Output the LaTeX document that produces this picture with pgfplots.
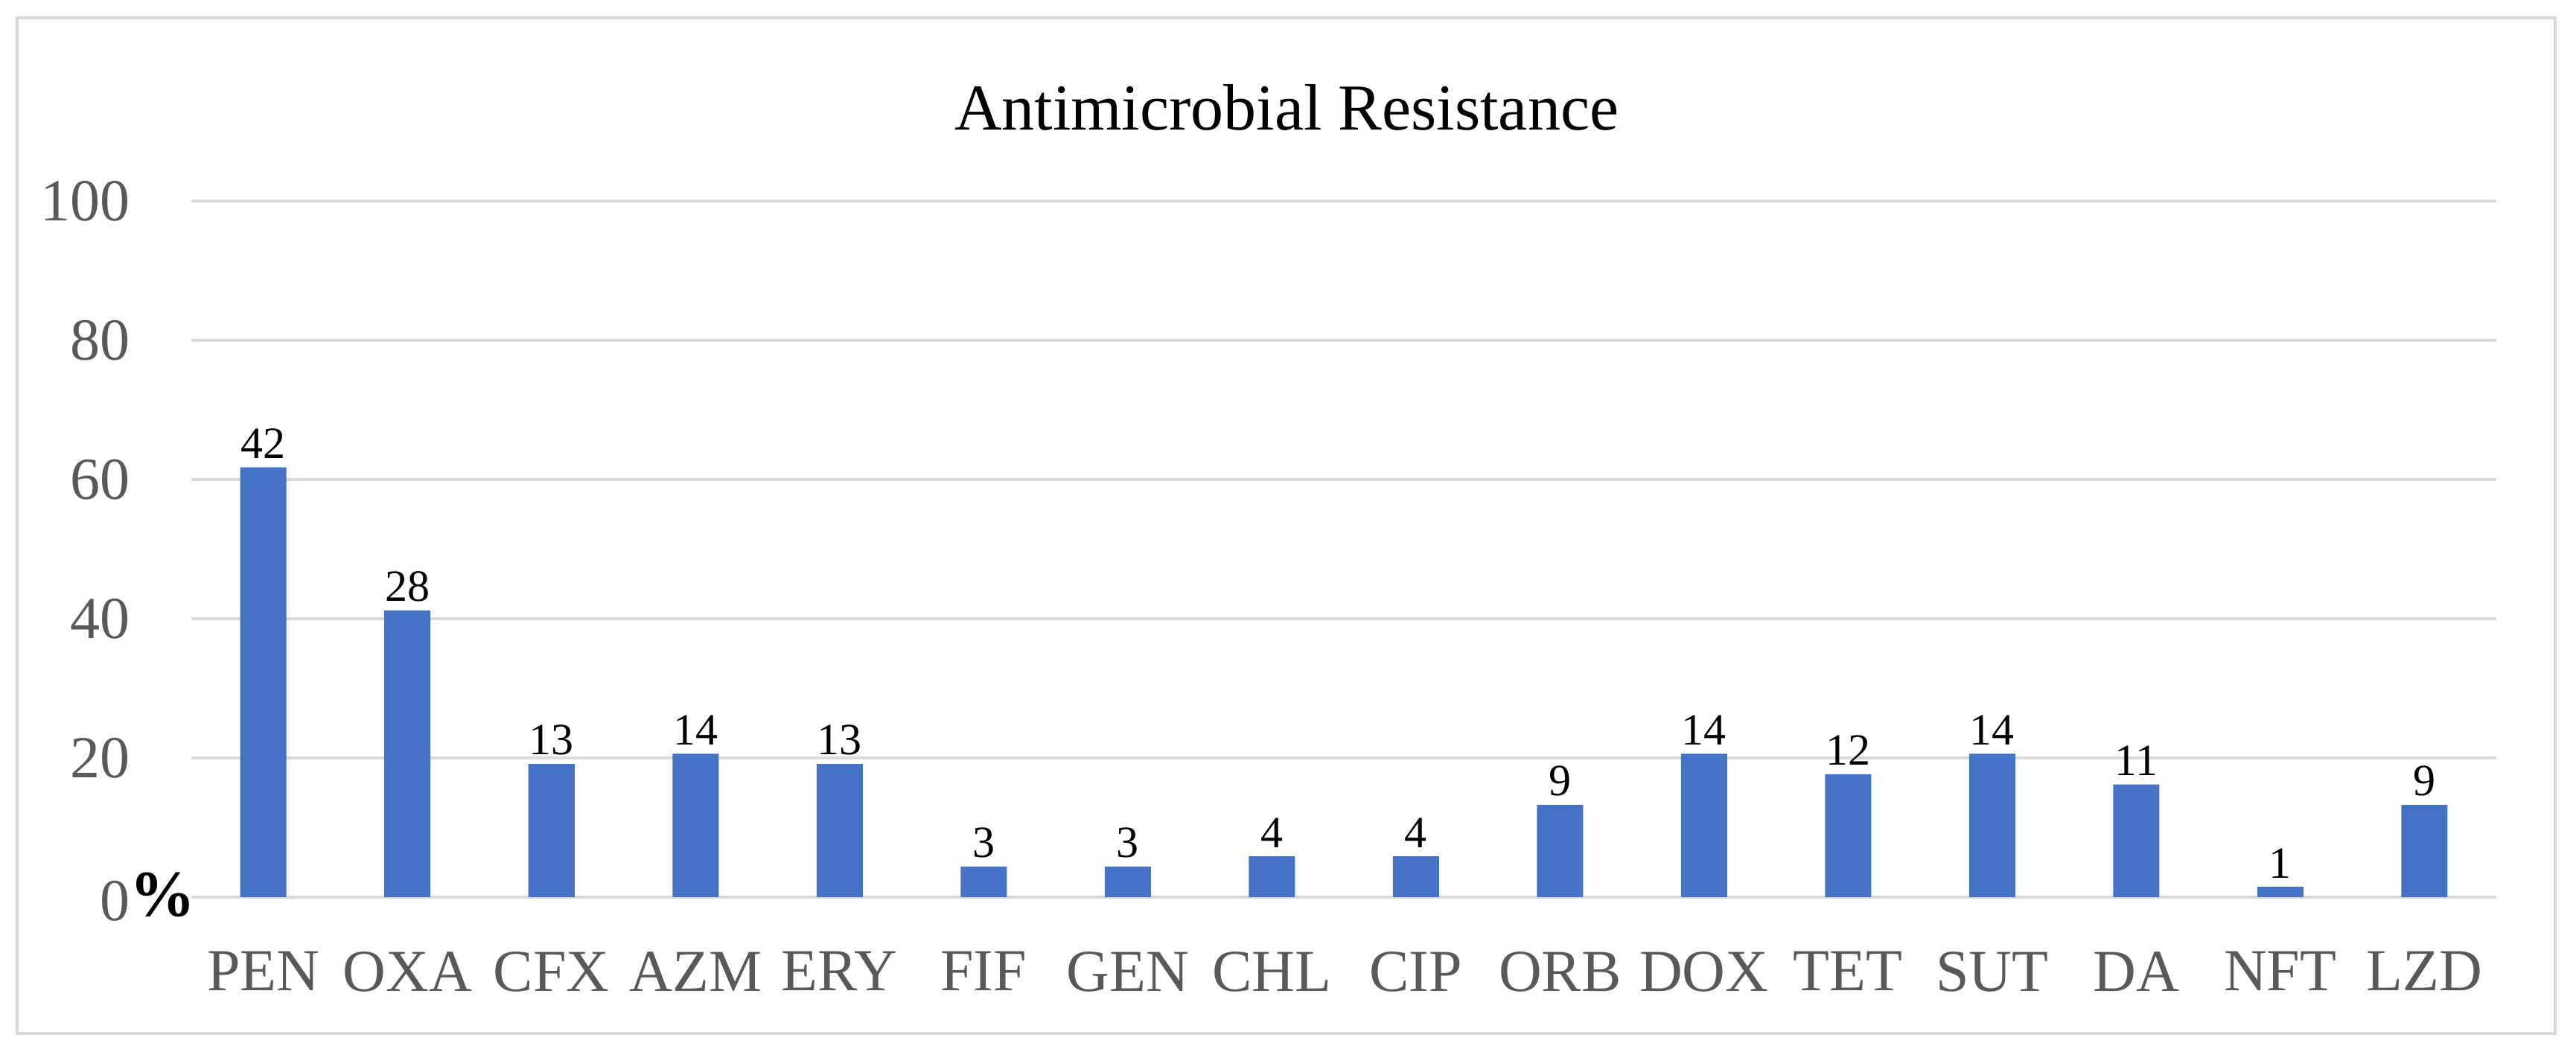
\documentclass[border=0pt]{standalone}
\usepackage{pgfplots}
\pgfplotsset{compat=1.18}
\usepackage{pgfplotstable}
\usepackage{fontspec}
\setmainfont{Liberation Serif}

\definecolor{barblue}{HTML}{4472C4}
\definecolor{gridgray}{HTML}{D9D9D9}
\definecolor{ticktext}{HTML}{595959}

% resistance in % of isolates (n = 68), label = number of isolates
\pgfplotstableread{
idx name pct n
0  PEN 61.76 42
1  OXA 41.18 28
2  CFX 19.12 13
3  AZM 20.59 14
4  ERY 19.12 13
5  FIF 4.41  3
6  GEN 4.41  3
7  CHL 5.88  4
8  CIP 5.88  4
9  ORB 13.24 9
10 DOX 20.59 14
11 TET 17.65 12
12 SUT 20.59 14
13 DA  16.18 11
14 NFT 1.47  1
15 LZD 13.24 9
}\amrdata

\begin{document}
\begin{tikzpicture}
\begin{axis}[
    scale only axis,
    width=309.6pt,
    height=93.5pt,
    xmin=-0.5, xmax=15.5,
    ymin=0, ymax=100,
    ybar,
    bar width=6.2pt,
    bar shift=0pt,
    xtick=data,
    xticklabels from table={\amrdata}{name},
    ytick={0,20,40,60,80,100},
    yticklabels={0\rlap{\raisebox{0.6pt}{\textcolor{black}{\fontsize{8.8}{9}\selectfont\bfseries\%}}},20,40,60,80,100},
    axis line style={draw=none},
    major tick length=0pt,
    ymajorgrids,
    grid style={gridgray, line width=0.35pt},
    tick label style={font=\fontsize{8}{9}\selectfont, text=ticktext},
    yticklabel style={xshift=-4.7pt},
    xticklabel style={yshift=-3.8pt},
    nodes near coords,
    point meta=explicit symbolic,
    nodes near coords style={font=\fontsize{6}{7}\selectfont, text=black, inner sep=1pt},
    clip=false,
]
\addplot[fill=barblue, draw=none] table[x=idx, y=pct, meta=n] {\amrdata};
\end{axis}
\node[anchor=base, font=\fontsize{8.8}{10}\selectfont] at ([xshift=-7.7pt, yshift=9.5pt]current axis.north) {Antimicrobial Resistance};
\draw[gridgray, line width=0.35pt] ([xshift=-23.4pt, yshift=-18.3pt]current axis.south west) rectangle ([xshift=7.9pt, yshift=24.6pt]current axis.north east);
\path ([xshift=-25.7pt, yshift=-21.2pt]current axis.south west) rectangle ([xshift=10.7pt, yshift=27pt]current axis.north east);
\end{tikzpicture}
\end{document}
